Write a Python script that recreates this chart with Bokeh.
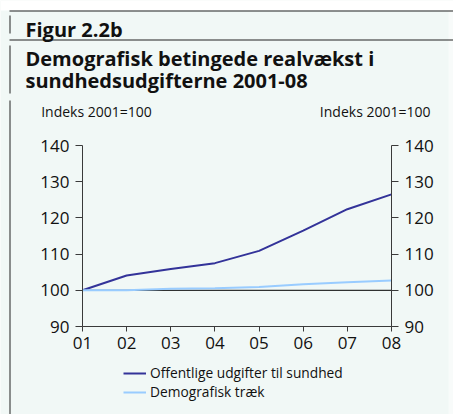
from bokeh.plotting import figure
from bokeh.models import (Range1d, FixedTicker, LinearAxis, Label,
                          Legend, LegendItem)
from bokeh.embed import file_html
from bokeh.resources import INLINE

# ---- data ----
years = [2001, 2002, 2003, 2004, 2005, 2006, 2007, 2008]
year_labels = ["01", "02", "03", "04", "05", "06", "07", "08"]
offentlige = [100.0, 104.1, 105.9, 107.5, 110.9, 116.5, 122.4, 126.5]
demografisk = [100.0, 100.0, 100.4, 100.6, 100.9, 101.7, 102.2, 102.7]
y_ticks = [90, 100, 110, 120, 130, 140]
base_value = 100
series_names = ["Offentlige udgifter til sundhed", "Demografisk træk"]
fig_label = "Figur 2.2b"
title_lines = ["Demografisk betingede realvækst i", "sundhedsudgifterne 2001-08"]
unit_label = "Indeks 2001=100"

# ---- style / layout ----
BG = "#f1f8f6"
DARK = "#333399"
LIGHT = "#99ccff"
FONT = "Open Sans"
AX = "#3a3a3a"
INK = "#111111"

W, H = 453, 414
PL, PR, PT, PB = 82, 391, 145, 326  # plot area edges in pixels

# pixel-space default ranges (y downwards), data ranges mapped onto plot area
x0, x1 = years[0], years[-1]
y0, y1 = y_ticks[0], y_ticks[-1]
kx = (PR - PL) / (x1 - x0)
ky = (PB - PT) / (y1 - y0)

p = figure(width=W, height=H, output_backend="svg", toolbar_location=None,
           x_range=Range1d(0, W), y_range=Range1d(H, 0),
           min_border=0, x_axis_location=None, y_axis_location=None)
p.extra_x_ranges = {"yr": Range1d(x0 - PL / kx, x1 + (W - PR) / kx)}
p.extra_y_ranges = {"val": Range1d(y0 - (H - PB) / ky, y1 + PT / ky)}
p.background_fill_color = BG
p.border_fill_color = BG
p.outline_line_color = None
p.grid.visible = False


def style_axis(ax, tick_out, standoff):
    ax.axis_line_color = AX
    ax.major_tick_line_color = AX
    ax.minor_tick_line_color = None
    ax.major_tick_in = 0
    ax.major_tick_out = tick_out
    ax.major_label_standoff = standoff
    ax.major_label_text_font = FONT
    ax.major_label_text_font_size = "17px"
    ax.major_label_text_color = INK


xa = LinearAxis(x_range_name="yr", y_range_name="val", fixed_location=y0,
                bounds=(x0, x1), ticker=FixedTicker(ticks=years),
                major_label_overrides={y: l for y, l in zip(years, year_labels)})
style_axis(xa, 5, 5)
p.add_layout(xa, "below")

ya = LinearAxis(x_range_name="yr", y_range_name="val", fixed_location=x0,
                bounds=(y0, y1), ticker=FixedTicker(ticks=y_ticks))
style_axis(ya, 7, 6)
p.add_layout(ya, "left")

ya2 = LinearAxis(x_range_name="yr", y_range_name="val", fixed_location=x1,
                 bounds=(y0, y1), ticker=FixedTicker(ticks=y_ticks))
style_axis(ya2, 7, 6)
p.add_layout(ya2, "right")

# decorations in pixel space
p.quad(left=0, right=W, top=0, bottom=10, fill_color="white", line_color=None)
p.quad(left=448, right=W, top=10, bottom=H, fill_color="#f8fbfa", line_color=None)
p.segment(x0=[9, 9], y0=[10.5, 39.5], x1=[W, W], y1=[10.5, 39.5],
          line_color="#222222", line_width=1)
p.segment(x0=[9.5, 9.5, 9.5], y0=[15, 45, 100], x1=[9.5, 9.5, 9.5],
          y1=[33, 93, H], line_color="#222222", line_width=1)

# base line at index 100
p.segment(x0=x0, y0=base_value, x1=x1, y1=base_value, line_color="black",
          line_width=1, x_range_name="yr", y_range_name="val")

r1 = p.line(years, offentlige, line_color=DARK, line_width=2,
            x_range_name="yr", y_range_name="val")
r2 = p.line(years, demografisk, line_color=LIGHT, line_width=2,
            x_range_name="yr", y_range_name="val")


def label(text, x, y, size, bold=False, align="left"):
    p.add_layout(Label(x=x, y=y, text=text, text_font=FONT,
                       text_font_size=size,
                       text_font_style="bold" if bold else "normal",
                       text_color=INK, text_align=align,
                       text_baseline="alphabetic"))


label(fig_label, 25, 28.5, "20px", bold=True)
label(title_lines[0], 25, 57.5, "20px", bold=True)
label(title_lines[1], 25, 79.5, "20px", bold=True)
label(unit_label, 40.7, 111, "14px")
label(unit_label, 430, 111, "14px", align="right")

legend = Legend(items=[LegendItem(label=series_names[0], renderers=[r1]),
                       LegendItem(label=series_names[1], renderers=[r2])],
                location=(123, 13), padding=0, margin=0, spacing=-2,
                glyph_width=23, glyph_height=16, label_height=16,
                label_standoff=4, border_line_color=None,
                background_fill_alpha=0, label_text_font=FONT,
                label_text_font_size="13.75px", label_text_color=INK)
p.add_layout(legend, "center")

open("out.html", "w").write(file_html(p, INLINE))
